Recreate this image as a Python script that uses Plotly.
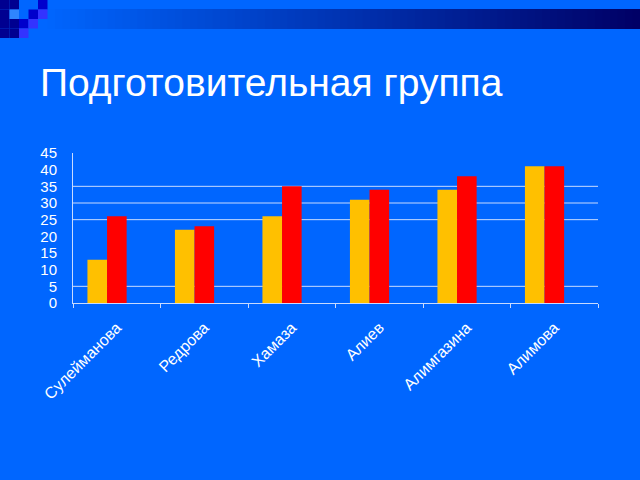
import plotly.graph_objects as go

# Data =========================================================================
names = ['Сулейманова', 'Редрова', 'Хамаза', 'Алиев', 'Алимгазина', 'Алимова']
series_1 = [13, 22, 26, 31, 34, 41]   # yellow
series_2 = [26, 23, 35, 34, 38, 41]   # red
y_ticks = [0, 5, 10, 15, 20, 25, 30, 35, 40, 45]
grid_at = [5, 25, 30, 35]

title_text = 'Подготовительная группа'

# Slide geometry ===============================================================
W, H = 640, 480
L, R, T, B = 73, 42, 153, 177
BG = '#0066ff'
FONT = 'Arial, Liberation Sans, sans-serif'
LINE = 'rgba(235,240,255,0.85)'

def px2x(px):
    return (px - L) / (W - L - R)

def py2y(py):
    return (H - B - py) / (H - T - B)

# Plot figure ==================================================================
fig = go.Figure()
fig.add_trace(go.Bar(x=names, y=series_1, marker_color='#ffc000',
                     width=0.224, offset=-0.335, marker_line_width=0))
fig.add_trace(go.Bar(x=names, y=series_2, marker_color='#ff0000',
                     width=0.224, offset=-0.111, marker_line_width=0))

shapes = []
# horizontal grid lines (only the ones visible on the slide)
for g in grid_at:
    shapes.append(dict(type='line', xref='paper', yref='y', x0=0, x1=1, y0=g, y1=g,
                       line=dict(color=LINE, width=1), layer='below'))

# gradient bar at the top
steps = 80
x_start, x_end = 40, 640
c0, c1 = (0, 102, 255), (0, 0, 102)
for i in range(steps):
    f = i / (steps - 1)
    col = 'rgb(%d,%d,%d)' % tuple(round(a + (b - a) * f) for a, b in zip(c0, c1))
    xa = x_start + (x_end - x_start) * i / steps
    xb = x_start + (x_end - x_start) * (i + 1) / steps + 0.5
    shapes.append(dict(type='rect', xref='paper', yref='paper',
                       x0=px2x(xa), x1=px2x(xb), y0=py2y(29), y1=py2y(9),
                       fillcolor=col, line=dict(width=0), layer='below'))

# little squares in the corner
cell = 9.5
squares = [
    (0, 0, '#000090'), (1, 0, '#000090'), (4, 0, '#0000cc'),
    (0, 1, '#000090'), (1, 1, '#2f85ff'), (3, 1, '#0000cc'), (4, 1, '#3333ff'),
    (0, 2, '#000090'), (1, 2, '#000090'), (2, 2, '#0000cc'), (3, 2, '#3333ff'),
    (0, 3, '#000090'), (1, 3, '#000090'), (2, 3, '#3333ff'),
]
for cx, cy, col in squares:
    shapes.append(dict(type='rect', xref='paper', yref='paper',
                       x0=px2x(cx * cell), x1=px2x((cx + 1) * cell),
                       y0=py2y((cy + 1) * cell), y1=py2y(cy * cell),
                       fillcolor=col, line=dict(width=0), layer='below'))

fig.update_layout(
    width=W, height=H,
    margin=dict(l=L, r=R, t=T, b=B),
    paper_bgcolor=BG, plot_bgcolor=BG,
    showlegend=False,
    barmode='overlay',
    shapes=shapes,
    font=dict(family=FONT, color='white', size=15),
    title=dict(text=title_text, x=40 / W, xanchor='left', y=1 - 69 / H, yanchor='top',
               font=dict(family=FONT, size=39, color='white')),
)
fig.update_xaxes(
    showgrid=False, showline=True, linecolor=LINE, linewidth=1,
    ticks='outside', tickson='boundaries', ticklen=4, tickcolor=LINE,
    tickangle=-45, ticklabelstandoff=8, tickfont=dict(size=16, color='white'),
)
fig.update_yaxes(
    range=[0, 45], tickvals=y_ticks, showgrid=False, zeroline=False,
    showline=True, linecolor=LINE, linewidth=1,
    ticks='', ticklabelstandoff=12, tickfont=dict(size=15, color='white'),
)

# page margin off so the slide fills the window
fig.write_html('out.html', config={'displayModeBar': False},
               post_script="document.body.style.margin='0';")
